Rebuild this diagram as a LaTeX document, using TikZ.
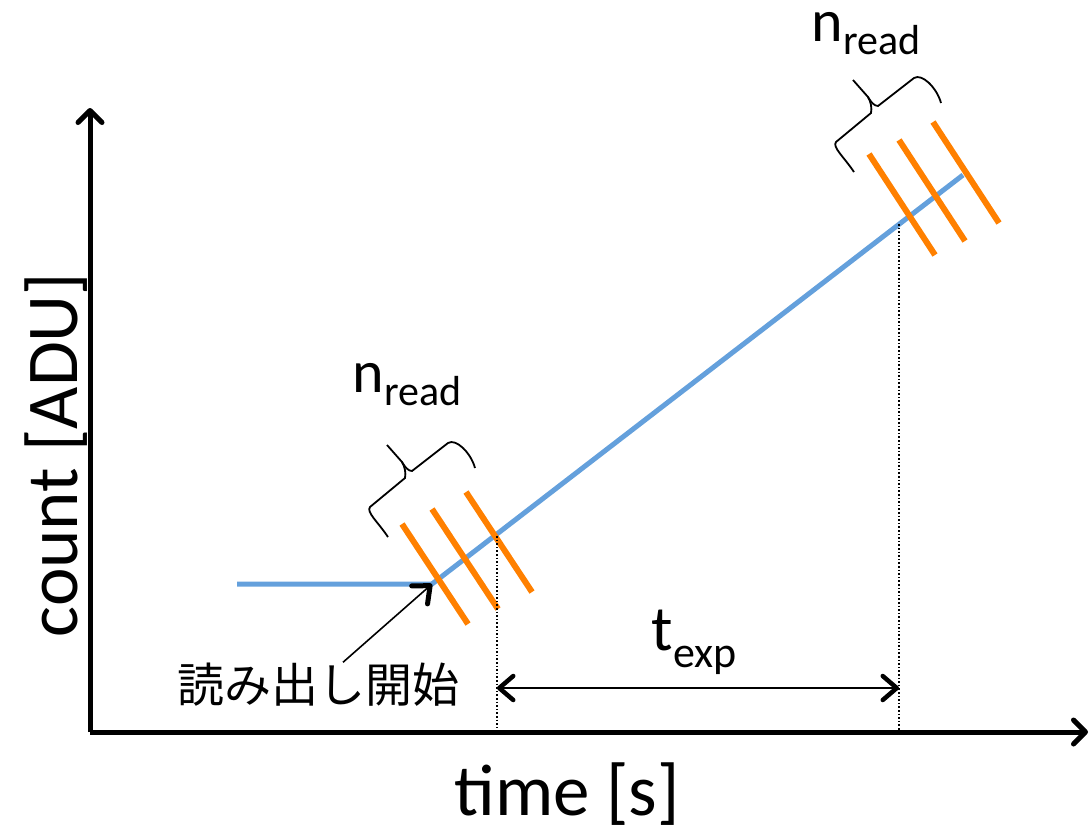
\documentclass[tikz,border=0pt]{standalone}
\usepackage{fontspec}
\setmainfont{Carlito}
\newfontfamily\jpfont{Noto Sans CJK JP}
\usetikzlibrary{arrows.meta,positioning,calc}

\definecolor{signalblue}{RGB}{100,160,220}
\definecolor{readorange}{RGB}{255,128,0}

% main letter, subscript, main size, subscript size, drop
\newcommand{\lowsub}[5]{{\fontsize{#3}{#3}\selectfont #1}{\fontsize{#4}{#4}\selectfont\raisebox{-#5}{#2}}}

\tikzset{
  axisline/.style={line width=5pt, -{Straight Barb[length=12pt,width=24pt,round]}},
  ramp/.style={signalblue, line width=5pt},
  readline/.style={readorange, line width=6pt},
  guide/.style={line width=1.6pt, dotted},
  span/.style={line width=2pt,
    {Straight Barb[length=14pt,width=24pt,line width=4.5pt,round]}-{Straight Barb[length=14pt,width=24pt,line width=4.5pt,round]}},
  pointer/.style={line width=1.6pt, -{Straight Barb[length=14pt,width=24pt,line width=5pt,round]}},
  bigtext/.style={inner sep=0pt, font=\fontsize{73}{73}\selectfont},
  readbrace/.pic={
    \draw[line width=1.8pt] (0,0) .. controls (-10,-15) and (-22,-25) .. (-18,-30)
      -- (17,-59) .. controls (18,-64) and (17,-70) .. (14,-75) -- (-1,-92);
    \draw[line width=1.8pt] (14,-75) .. controls (17,-70) and (20,-66) .. (24,-66)
      -- (60,-94) .. controls (68,-99) and (83,-84) .. (87,-69);
  }
}

\begin{document}
\begin{tikzpicture}[x=1pt, y=-1pt]
  \useasboundingbox (0,0) rectangle (1090,831);

  % axes
  \coordinate (O) at (90,732);
  \coordinate (xend) at (1088,732);
  \coordinate (yend) at (90,108);
  \draw[axisline] (O) -- (xend);
  \draw[axisline] (O) -- (yend);
  \node[bigtext, anchor=base] (xlabel) at (567,815) {time [s]};
  \node[bigtext, anchor=base, rotate=90] (ylabel) at (77,455) {count [ADU]};

  % signal ramp
  \coordinate (flat) at (237,584);
  \coordinate (readstart) at (432,584);
  \coordinate (rampend) at (963,175);
  \draw[ramp] (flat) -- (readstart) -- (rampend);

  % reads
  \foreach \x/\y in {402/524, 432/509, 466/492}
    \draw[readline] (\x,\y) -- ++(66,100);
  \foreach \x/\y in {869/154, 899/140, 933/122}
    \draw[readline] (\x,\y) -- ++(66,101);

  % braces and labels
  \pic at (388,537) {readbrace};
  \pic at (854,172) {readbrace};
  \node[inner sep=0pt, anchor=base] (nlow) at (407,392) {\lowsub{n}{read}{60}{42}{13pt}};
  \node[inner sep=0pt, anchor=base] (nhigh) at (866,41) {\lowsub{n}{read}{60}{42}{13pt}};

  % exposure time
  \coordinate (firstread) at (497,536);
  \coordinate (lastread) at (899,224);
  \coordinate (spanrow) at (0,688);
  \draw[guide] (firstread) -- (firstread |- O);
  \draw[guide] (lastread) -- (lastread |- O);
  \draw[span] (firstread |- spanrow) -- (lastread |- spanrow);
  \node[inner sep=0pt, anchor=base] (texp) at (694,650) {\lowsub{t}{exp}{64}{44}{17pt}};

  % read start
  \node[inner sep=0pt, anchor=base, font=\jpfont\fontsize{47}{47}\selectfont] (readlabel) at (318,702) {読み出し開始};
  \draw[pointer] ([xshift=25pt]readlabel.north) -- (readstart);
\end{tikzpicture}
\end{document}
